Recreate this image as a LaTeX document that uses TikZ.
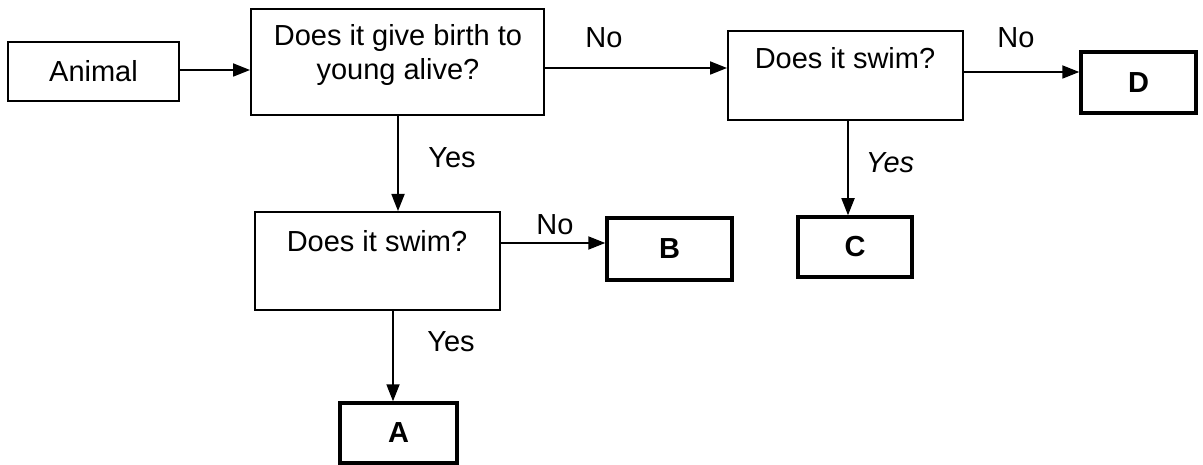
\documentclass[tikz,border=0pt]{standalone}
\usepackage{fontspec}
\setmainfont{Liberation Sans}
\usetikzlibrary{arrows.meta}
\tikzset{
  qbox/.style={draw, line width=2pt, inner sep=0pt},
  abox/.style={draw, line width=3.5pt, inner sep=0pt, font=\fontsize{29}{34}\selectfont\bfseries},
  sbox/.style={draw, line width=2pt, inner sep=0pt, font=\fontsize{29}{34}\selectfont},
  txt/.style={inner sep=0pt, align=center, font=\fontsize{29}{34}\selectfont},
  arr/.style={line width=1.8pt, -{Triangle[length=17pt,width=13pt]}},
}
\begin{document}
\begin{tikzpicture}[x=1pt,y=-1pt]
\useasboundingbox (0,0) rectangle (1203,465);
% boxes
\node[sbox, minimum width=171pt, minimum height=59pt] (animal) at (93.5,71.5) {Animal};
\node[qbox, minimum width=293pt, minimum height=106pt] (q1) at (397.5,62) {};
\node[txt] (q1t) at (398,55) {Does it give birth to\\young alive?};
\node[qbox, minimum width=235pt, minimum height=89pt] (q2) at (845.5,75.5) {};
\node[txt] (q2t) at (845,58) {Does it swim?};
\node[qbox, minimum width=245pt, minimum height=98pt] (q3) at (377.5,261) {};
\node[txt] (q3t) at (377,241) {Does it swim?};
\node[abox, minimum width=115pt, minimum height=61pt] (d) at (1138.5,82.5) {D};
\node[abox, minimum width=114pt, minimum height=60pt] (c) at (855,247) {C};
\node[abox, minimum width=125pt, minimum height=62pt] (b) at (669.5,249) {B};
\node[abox, minimum width=117pt, minimum height=60pt] (a) at (398.5,433) {A};
% connectors
\draw[arr] ([yshift=1.5pt]animal.east) -- ([yshift=1.5pt]animal.east -| q1.west);
\draw[arr] ([yshift=-6pt]q1.east) -- ([yshift=-6pt]q1.east -| q2.west);
\draw[arr] ([yshift=3.5pt]q2.east) -- ([yshift=3.5pt]q2.east -| d.west);
\draw[arr] ([xshift=0.5pt]q1.south) -- ([xshift=0.5pt]q1.south |- q3.north);
\draw[arr] ([yshift=18pt]q3.east) -- ([yshift=18pt]q3.east -| b.west);
\draw[arr] ([xshift=15.5pt]q3.south) -- ([xshift=15.5pt]q3.south |- a.north);
\draw[arr] ([xshift=2.5pt]q2.south) -- ([xshift=2.5pt]q2.south |- c.north);
% labels
\node[txt] (l1) at (604,38) {No};
\node[txt] (l2) at (1016,38) {No};
\node[txt] (l3) at (452,158) {Yes};
\node[txt, font=\fontsize{29}{34}\selectfont\itshape] (l4) at (890,163) {Yes};
\node[txt] (l5) at (555,225) {No};
\node[txt] (l6) at (451,342) {Yes};
\end{tikzpicture}
\end{document}
